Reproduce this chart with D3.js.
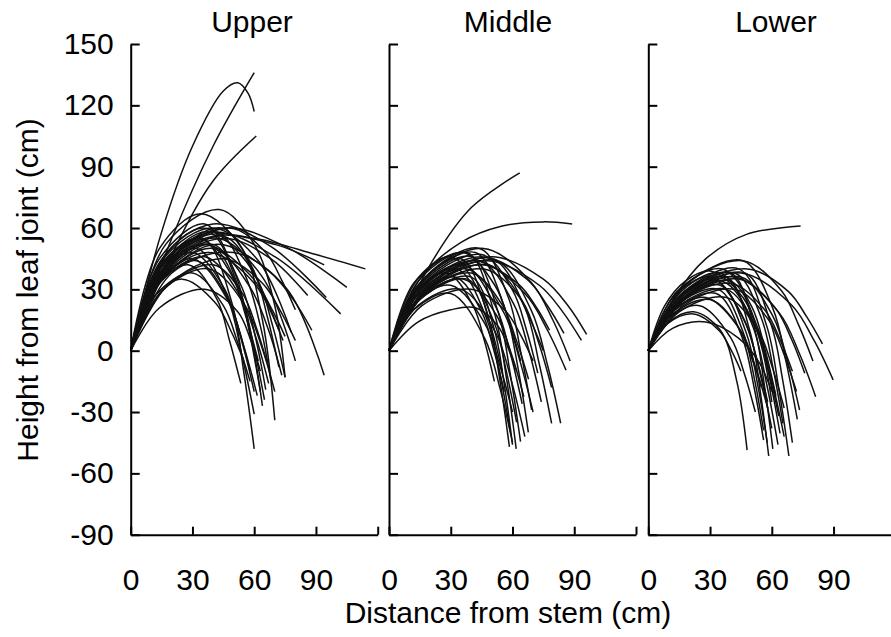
<!DOCTYPE html>
<html>
<head>
<meta charset="utf-8">
<script src="https://cdn.jsdelivr.net/npm/d3@7"></script>
<style>
html,body{margin:0;padding:0;background:#fff;}
svg{display:block;font-family:Arial,"Liberation Sans",sans-serif;}
</style>
</head>
<body>
<svg id="chart" width="891" height="637"></svg>
<script>
// ---- data (distance from stem, height from leaf joint) in cm ----
const panelNames = ["Upper", "Middle", "Lower"];
const yTicks = [-90, -60, -30, 0, 30, 60, 90, 120, 150];
const xTicks = [0, 30, 60, 90, 120];
const xTickLabels = ["0", "30", "60", "90", ""];

const upperLeaves = [
  [[0,0],[20,55],[40,100],[60,136]],
  [[0,0],[15,58],[30,100],[45,127],[52,131],[57,126],[60,117]],
  [[0,0],[20,47],[40,83],[61,105]],
  [[0,0],[15,38],[35,56],[60,55],[90,47],[114,40]],
  [[0,0],[18,43],[45,60],[75,51],[105,31]],
  [[0,0],[16,43],[40,58],[70,46],[102,18]],
  [[0,0],[16,46],[40,62],[68,51],[95,26]],
  [[0,0],[16,42],[40,56],[70,52],[94,42]],
  [[0,0],[18,41],[45,55],[68,45],[86,27]],
  [[0,0],[20,38],[50,48],[76,30],[94,-12]],
  [[0,0],[17,41],[42,55],[64,36],[80,-5]],
  [[0,0],[16,45],[40,60],[62,44],[78,9]],
  [[0,0],[14,38],[35,52],[58,37],[75,7]],
  [[0,0],[15,35],[38,48],[60,33],[74,5]],
  [[0,0],[17,52],[43,69],[60,52],[70,22],[75,-13]],
  [[0,0],[14,50],[34,67],[54,50],[64,15],[70,-34]],
  [[0,0],[14,40],[35,55],[49,24],[55,-11],[60,-48]],
  [[0,0],[13,36],[32,50],[47,26],[54,-2],[60,-31]],
  [[0,0],[15,42],[38,58],[52,32],[59,4],[64,-27]],
  [[0,0],[12,32],[30,45],[47,25],[55,2],[61.5,-22]],
  [[0,0],[16,37],[40,52],[54,31],[60.5,7],[65.6,-19]],
  [[0,0],[17,42],[42,58],[56,36],[63,12],[68,-14]],
  [[0,0],[18,40],[45,56],[61.5,35],[69,12],[75,-13]],
  [[0,0],[16,36],[40,50],[58,31],[67,10],[73.4,-12]],
  [[0,0],[11,30],[28,42],[42,25],[48,5],[53.5,-16]],
  [[0,0],[12,27],[30,38],[45,22],[52,4],[58,-15]],
  [[0,0],[14,33],[36,46],[53,27],[61,6],[67,-16]],
  [[0,0],[14,21],[36,30],[52,19],[58,6],[63,-10]],
  [[0,0],[10,25],[25,35],[41.5,23],[49,9],[55,-5]],
  [[0,0],[15,29],[38,40],[55.6,22],[63.6,2],[70,-20]],
  [[0,0],[18,32],[45,45],[64,33],[73,19],[80,5]],
  [[0,0],[14,43],[35,60],[55,45],[64.6,28],[72,10]],
  [[0,0],[17,37],[42,52],[67,39],[79,25],[88,10]],
  [[0,0],[12,35],[30,48],[45.4,30.6],[52.4,11],[58,-10]],
  [[0,0],[14,45],[36,62],[51,37],[57.6,9.5],[63,-20]],
  [[0,0],[19,43],[48,60],[65.6,48],[73.6,34],[80,20]],
  [[0,0],[16,30],[40,42],[54.3,28],[60.8,12],[66,-5]],
  [[0,0],[13,40],[33,55],[49,37],[56,16.6],[62,-5]],
  [[0,0],[15,37],[38,52],[53,29],[59.6,3],[65,-24]],
  [[0,0],[17.6,43],[44,60],[59.4,40],[66.4,16.5],[72,-8]],
  [[0,0],[13,32],[32,44],[47.4,25],[54.4,3],[60,-20]]
];

const middleLeaves = [
  [[0,0],[20,42],[40,70],[63.5,87]],
  [[0,0],[15,35],[35,53],[55,61],[75,63],[89,62]],
  [[0,0],[20,33],[50,46],[75,35],[87,22],[96,8]],
  [[0,0],[19,32],[48,44],[73,32],[84.4,19],[93.5,5]],
  [[0,0],[18,33],[45,46],[67,35],[77,22],[85,8.5]],
  [[0,0],[17,32],[42,44],[66,28],[77,10],[86,-9.5]],
  [[0,0],[11,27],[28,38],[40.8,22],[46.6,4],[51.2,-15]],
  [[0,0],[14,32],[35,45],[48,17],[53.8,-14],[58.5,-47]],
  [[0,0],[15,35],[38,48],[51,19],[57,-13],[61.8,-48]],
  [[0,0],[16,33],[40,46],[53,19],[59,-12],[63.9,-44.5]],
  [[0,0],[17,35],[42,48],[56,21.6],[62.6,-8],[67.7,-40]],
  [[0,0],[17.6,36],[44,50],[58,26],[64,-0.6],[69.3,-29]],
  [[0,0],[14,30],[36,42],[51.8,21.6],[59,-1.5],[64.7,-26]],
  [[0,0],[18,34],[45,47],[60,29.6],[66.8,10],[72.3,-11]],
  [[0,0],[20,32],[50,45],[66,21],[73,-6.5],[79,-35.5]],
  [[0,0],[21,32],[52,44],[69,20],[77,-7],[83.4,-35.5]],
  [[0,0],[19,30],[48,42],[65,24],[72.8,3.6],[79,-18]],
  [[0,0],[13,29],[33,40],[47.3,16],[53.8,-11],[59,-40]],
  [[0,0],[16,27],[40,38],[55,22.4],[62,4.7],[67.8,-14]],
  [[0,0],[14,14],[30,20],[42,21],[53,12],[58,1],[62,-10]],
  [[0,0],[14,25],[36,35],[52,17.7],[59.6,-2],[65.5,-22.5]],
  [[0,0],[12,23],[30,32],[46.5,13.4],[54,-7.7],[60,-30]],
  [[0,0],[13,26],[32,36],[45,19],[51,0],[56,-20]],
  [[0,0],[16,22],[40,30],[56.5,19.5],[64,7.6],[70,-5]],
  [[0,0],[18,29],[46,40],[62,28],[69,14.4],[75,0]],
  [[0,0],[15,25],[38,35],[51,14],[57,-10],[62,-35]],
  [[0,0],[14,22],[35,30],[52,8.4],[59.8,-16],[66,-42]],
  [[0,0],[17.6,32],[44,44],[60.5,23],[68,0],[74,-25]],
  [[0,0],[12,20],[30,28],[46.5,6],[54,-18.7],[60,-45]],
  [[0,0],[18,30],[45,42],[63,32.4],[71.4,21.5],[78,10]],
  [[0,0],[12,33],[30,46],[43.8,29],[50,10],[55,-10]],
  [[0,0],[15,29],[38,40],[55.6,19],[63.6,-5],[70,-30]],
  [[0,0],[14,35],[36,48],[51.4,32],[58.4,14],[64,-5]],
  [[0,0],[16,26],[40,36],[51,11],[56,-16.5],[60,-46]],
  [[0,0],[18,36],[46,50],[69,33.5],[79.6,15],[88,-5]]
];

const lowerLeaves = [
  [[0,0],[12,25],[28,45],[48,57],[74,61]],
  [[0,0],[18,32],[46,44],[60.5,20.7],[67,-5.7],[72.4,-33.6]],
  [[0,0],[19,29],[48,40],[68,29],[77,16.5],[84.6,3.3]],
  [[0,0],[18,27],[45,38],[69.6,22.3],[80.8,4.5],[89.8,-14.3]],
  [[0,0],[17,26],[42,36],[63.6,18.5],[73.4,-1.4],[81.3,-22.5]],
  [[0,0],[10,14],[22,19],[35,10],[43,-15],[48,-48.6]],
  [[0,0],[15,26],[38,36],[49.3,9.8],[54.4,-20],[58.5,-51.5]],
  [[0,0],[16,27],[40,38],[51.3,12],[56.4,-17],[60.5,-48]],
  [[0,0],[14,23],[35,32],[47.5,9],[53.2,-17],[57.8,-45]],
  [[0,0],[13.6,22],[34,30],[46,9.3],[51.6,-14],[56,-39]],
  [[0,0],[16,24.5],[40,34],[53,11.6],[59,-13.7],[64,-40.5]],
  [[0,0],[17.6,29],[44,40],[57.4,12.5],[63.4,-18.6],[68.3,-51.5]],
  [[0,0],[17,27],[42,38],[54.9,16],[60.7,-9],[65.4,-35.5]],
  [[0,0],[18,26],[45,36],[60.7,16.5],[67.8,-5.6],[73.5,-29]],
  [[0,0],[17.6,25],[44,35],[61.6,21],[69.6,5.6],[76,-11]],
  [[0,0],[15,22],[38,30],[52,11.4],[58.3,-9.7],[63.4,-32]],
  [[0,0],[13,20],[33,28],[45.6,6.5],[51.4,-18],[56,-43.7]],
  [[0,0],[12,11],[28,14],[44,6],[54,-6],[60,-20]],
  [[0,0],[10,16],[25,22],[40,6.4],[46.6,-11],[52,-30]],
  [[0,0],[12,18],[30,25],[45.4,9],[52.4,-9],[58,-28]],
  [[0,0],[14,29],[36,40],[50.3,21.4],[56.8,0.3],[62,-22]],
  [[0,0],[16,24],[40,33],[56.5,20],[64,5.5],[70,-10]],
  [[0,0],[13,25],[32,35],[47.4,13],[54.4,-11.7],[60,-38]],
  [[0,0],[11,19],[28,26],[42.8,12.8],[49.6,-2],[55,-18]],
  [[0,0],[15,19],[38,26],[53.4,9.8],[60.4,-8.6],[66,-28]],
  [[0,0],[19,27],[47,38],[59.6,13],[65.4,-15],[70,-45]],
  [[0,0],[9,13],[22,18],[34.6,9.6],[40.4,0],[45,-10]],
  [[0,0],[14,27],[35,38],[50.4,12.8],[57.4,-15.8],[63,-46]],
  [[0,0],[17,22],[42,30],[58.5,15],[66,-2],[72,-20]],
  [[0,0],[14,25],[36,34],[52.5,11],[60,-14.6],[66,-42]],
  [[0,0],[18,32],[46,44],[64.7,29.3],[73,12.6],[80,-5]],
  [[0,0],[12,26],[30,36],[45.4,17.7],[52.4,-3],[58,-25]],
  [[0,0],[8,22],[18,34],[30,39],[46,26],[55,2],[60,-25]]
];

const panelData = [upperLeaves, middleLeaves, lowerLeaves];

// ---- layout ----
const svg = d3.select("#chart");
const panelLeft = [130.7, 389, 648.3];
const titleCenter = [252, 508, 776];
const panelWidth = 247;
const yTop = 44, yBottom = 534.7;
const fontSize = 30;
const fontFamily = "Arial, 'Liberation Sans', sans-serif";

const y = d3.scaleLinear().domain([-90, 150]).range([yBottom, yTop]);

panelData.forEach((leaves, i) => {
  const x = d3.scaleLinear().domain([0, 120]).range([panelLeft[i], panelLeft[i] + panelWidth]);
  const g = svg.append("g");

  const line = d3.line()
    .x(d => x(d[0]))
    .y(d => y(d[1]))
    .curve(d3.curveCatmullRom.alpha(0.5));

  g.append("g").selectAll("path").data(leaves).join("path")
    .attr("d", line)
    .attr("fill", "none")
    .attr("stroke", "#111")
    .attr("stroke-width", 1.5);

  const yAxis = d3.axisLeft(y)
    .tickValues(yTicks)
    .tickSizeInner(-9)
    .tickSizeOuter(0)
    .tickPadding(17)
    .tickFormat(d => i === 0 ? String(d) : "");
  const ya = g.append("g").attr("transform", `translate(${panelLeft[i]},0)`).call(yAxis);

  const xAxis = d3.axisBottom(x)
    .tickValues(xTicks)
    .tickSizeInner(-8)
    .tickSizeOuter(0)
    .tickPadding(34)
    .tickFormat((d, k) => xTickLabels[k]);
  const xa = g.append("g").attr("transform", `translate(0,${yBottom})`).call(xAxis);

  [ya, xa].forEach(a => {
    a.select(".domain").attr("stroke", "#000").attr("stroke-width", 2);
    a.selectAll(".tick line").attr("stroke", "#000").attr("stroke-width", 2);
    a.selectAll(".tick text").attr("fill", "#000")
      .style("font-size", fontSize + "px")
      .style("font-family", fontFamily);
  });

  svg.append("text")
    .attr("x", titleCenter[i])
    .attr("y", 32)
    .attr("text-anchor", "middle")
    .style("font-size", fontSize + "px")
    .style("font-family", fontFamily)
    .text(panelNames[i]);
});

svg.append("text")
  .attr("x", 508)
  .attr("y", 623)
  .attr("text-anchor", "middle")
  .style("font-size", fontSize + "px")
  .style("font-family", fontFamily)
  .text("Distance from stem (cm)");

svg.append("text")
  .attr("transform", "translate(38,290) rotate(-90)")
  .attr("text-anchor", "middle")
  .style("font-size", fontSize + "px")
  .style("font-family", fontFamily)
  .text("Height from leaf joint (cm)");
</script>
</body>
</html>
